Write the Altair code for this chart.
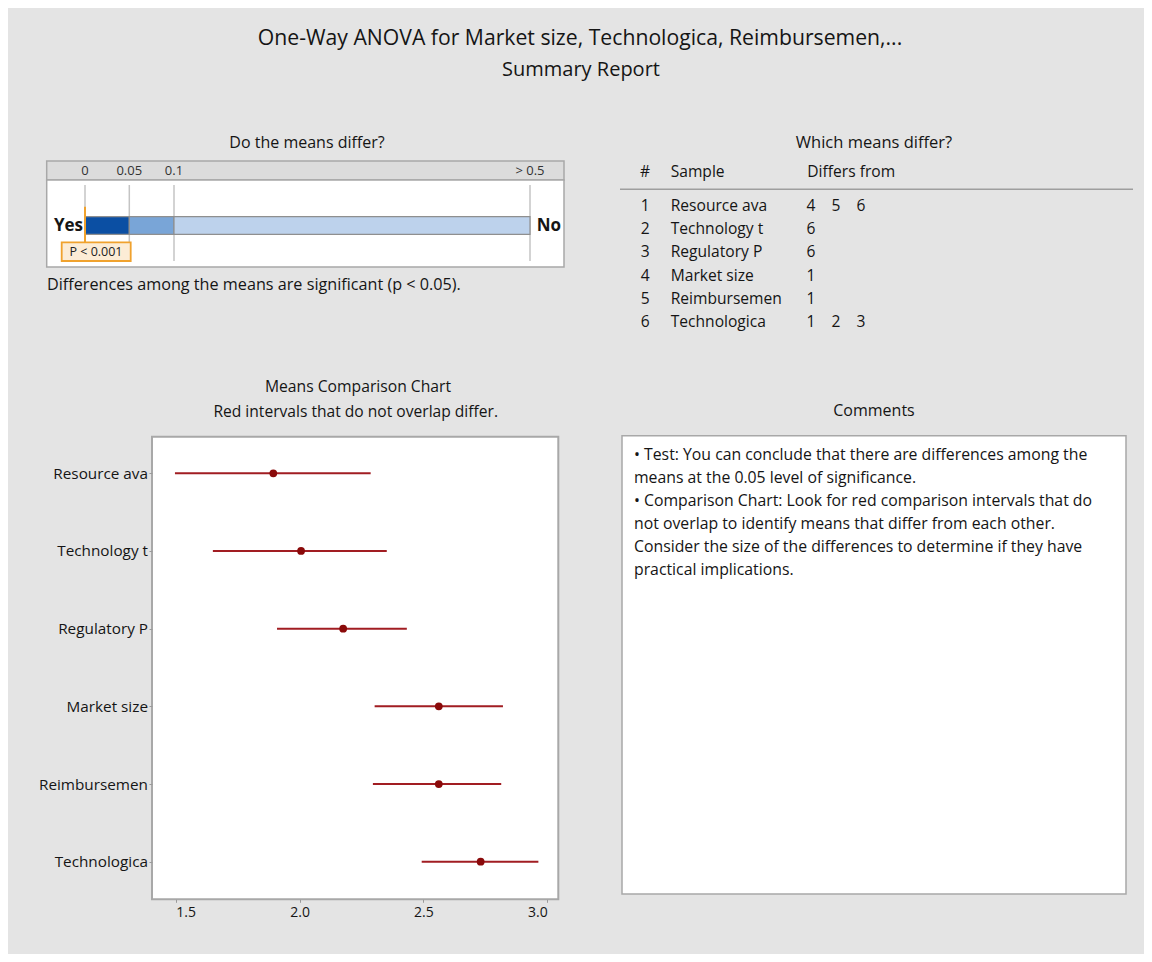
import altair as alt
import pandas as pd

# ---------------- data ----------------
samples = ["Resource ava", "Technology t", "Regulatory P", "Market size", "Reimbursemen", "Technologica"]
means = [1.894, 2.006, 2.176, 2.562, 2.562, 2.731]
lower = [1.497, 1.650, 1.909, 2.303, 2.296, 2.493]
upper = [2.287, 2.352, 2.433, 2.821, 2.814, 2.964]
differs_from = [[4, 5, 6], [6], [6], [1], [1], [1, 2, 3]]

p_edges = [0, 0.05, 0.1, 0.5]
p_edge_labels = ["0", "0.05", "0.1", "> 0.5"]
p_bands = ["strong", "moderate", "weak"]
p_value = 0.0
p_value_text = "P < 0.001"

x_ticks = [1.5, 2.0, 2.5, 3.0]

comments = [
    "\u2022  Test: You can conclude that there are differences among the",
    "means at the 0.05 level of significance.",
    "\u2022  Comparison Chart: Look for red comparison intervals that do",
    "not overlap to identify means that differ from each other.",
    "Consider the size of the differences to determine if they have",
    "practical implications.",
]

# ---------------- styles ----------------
FONT = "Open Sans"
TEXT = "#151515"
BG = "#e4e4e4"
FRAME = "#a8a8a8"
RED_LINE = "#a11d22"
RED_DOT = "#8a0a0a"
BAND_COLORS = ["#0b4fa3", "#79a5d7", "#bdd2ec"]
ORANGE = "#f0a22e"

W, H = 1136, 946

anchor = pd.DataFrame({"k": [0]})


def label(text, x, y, size=14, weight="normal", align="left", color=TEXT):
    return alt.Chart(anchor).mark_text(
        text=text, font=FONT, fontSize=size, fontWeight=weight,
        align=align, baseline="middle", color=color,
    ).encode(x=alt.value(x), y=alt.value(y))


def box(x, x2, y, y2, fill, stroke, sw=1.0):
    return alt.Chart(anchor).mark_rect(
        fill=fill, stroke=stroke, strokeWidth=sw
    ).encode(x=alt.value(x), x2=alt.value(x2), y=alt.value(y), y2=alt.value(y2))


# ---------------- tables ----------------
df_means = pd.DataFrame({"sample": samples, "mean": means, "lower": lower, "upper": upper})
df_rows = pd.DataFrame({"row": list(range(1, len(samples) + 1)), "sample": samples})
df_diff = pd.DataFrame(
    [{"row": i + 1, "k": k, "num": n} for i, lst in enumerate(differs_from) for k, n in enumerate(lst)]
)
df_pband = pd.DataFrame({"start": p_edges[:-1], "end": p_edges[1:], "band": p_bands})
df_pedge = pd.DataFrame({"edge": p_edges, "label": p_edge_labels})
df_pval = pd.DataFrame({"p": [p_value]})
df_comments = pd.DataFrame({"line": list(range(len(comments))), "text": comments})

# ---------------- p-value panel ----------------
pscale = alt.Scale(domain=p_edges, range=[77, 121.3, 166, 522], nice=False, zero=False, clamp=True)

p_grid = alt.Chart(df_pedge).mark_rule(color="#c4c4c4", strokeWidth=1.5).encode(
    x=alt.X("edge:Q", scale=pscale, axis=None), y=alt.value(177), y2=alt.value(253)
)
p_bars = alt.Chart(df_pband).mark_rect(stroke="#8f8f8f", strokeWidth=1.2).encode(
    x=alt.X("start:Q", scale=pscale, axis=None), x2="end:Q",
    y=alt.value(208.7), y2=alt.value(226.3),
    color=alt.Color("band:N", scale=alt.Scale(domain=p_bands, range=BAND_COLORS), legend=None),
)
p_ticklabels = alt.Chart(df_pedge).mark_text(
    font=FONT, fontSize=13, color="#333333", baseline="middle", align="center"
).encode(x=alt.X("edge:Q", scale=pscale, axis=None), y=alt.value(162.5), text="label:N")
p_marker = alt.Chart(df_pval).mark_rule(color=ORANGE, strokeWidth=2).encode(
    x=alt.X("p:Q", scale=pscale, axis=None), y=alt.value(198.7), y2=alt.value(234.3)
)
p_panel = alt.layer(p_grid, p_bars, p_ticklabels, p_marker)

# ---------------- means comparison chart ----------------
xscale = alt.Scale(domain=[1.5, 3.0], range=[167.7, 539.3], nice=False, zero=False)
yscale = alt.Scale(type="point", domain=samples, range=[465.3, 853.7], padding=0)
xaxis = alt.Axis(
    orient="bottom", offset=891.3 - H, values=x_ticks, format=".1f", domain=False, grid=False,
    tickSize=3, tickColor="#9a9a9a", labelFont=FONT, labelFontSize=14, labelColor=TEXT,
    labelPadding=3, title=None, zindex=1,
)
yaxis = alt.Axis(
    orient="left", offset=-144, domain=False, grid=False, tickSize=3, tickColor="#9a9a9a",
    labelFont=FONT, labelFontSize=15.3, labelColor=TEXT, labelPadding=1.5, title=None, zindex=1,
)
m_rule = alt.Chart(df_means).mark_rule(color=RED_LINE, strokeWidth=2).encode(
    y=alt.Y("sample:N", scale=yscale, axis=yaxis, sort=samples),
    x=alt.X("lower:Q", scale=xscale, axis=xaxis), x2="upper:Q",
)
m_point = alt.Chart(df_means).mark_point(
    filled=True, shape="circle", size=60, color=RED_DOT, opacity=1
).encode(
    y=alt.Y("sample:N", scale=yscale, sort=samples),
    x=alt.X("mean:Q", scale=xscale),
)
m_panel = alt.layer(m_rule, m_point)

# ---------------- which means differ table ----------------
tscale = alt.Scale(domain=[1, 6], range=[198, 314], nice=False, zero=False)
t_num = alt.Chart(df_rows).mark_text(font=FONT, fontSize=15.6, color=TEXT, align="left", baseline="middle").encode(
    x=alt.value(632.7), y=alt.Y("row:Q", scale=tscale, axis=None), text="row:Q"
)
t_name = alt.Chart(df_rows).mark_text(font=FONT, fontSize=15.6, color=TEXT, align="left", baseline="middle").encode(
    x=alt.value(662.7), y=alt.Y("row:Q", scale=tscale, axis=None), text="sample:N"
)
t_diff = alt.Chart(df_diff).mark_text(font=FONT, fontSize=15.6, color=TEXT, align="center", baseline="middle").encode(
    x=alt.X("k:Q", scale=alt.Scale(domain=[0, 2], range=[803, 853], nice=False, zero=False), axis=None),
    y=alt.Y("row:Q", scale=tscale, axis=None), text="num:Q",
)
t_sep = alt.Chart(anchor).mark_rule(color="#9e9e9e", strokeWidth=1.5).encode(
    x=alt.value(612), x2=alt.value(1125), y=alt.value(181.3)
)
t_panel = alt.layer(t_sep, t_num, t_name, t_diff)

# ---------------- comments ----------------
c_text = alt.Chart(df_comments).mark_text(font=FONT, fontSize=15.8, color=TEXT, align="left", baseline="middle").encode(
    x=alt.value(626),
    y=alt.Y("line:Q", scale=alt.Scale(domain=[0, 5], range=[447, 562], nice=False, zero=False), axis=None),
    text="text:N",
)

# ---------------- static texts & frames ----------------
decor = [
    # p-value panel frames
    box(38.7, 556, 153, 172, "#dcdcdc", FRAME, 1.5),
    box(38.7, 556, 172, 259, "#ffffff", FRAME, 1.5),
    # means chart frame
    box(144, 550.3, 428.7, 891.3, "#ffffff", FRAME, 2),
    # comments frame
    box(614, 1118, 427.7, 886, "#ffffff", FRAME, 1.5),
]

texts = [
    label("One-Way ANOVA for Market size, Technologica, Reimbursemen,...", 572, 31, size=21.2, align="center"),
    label("Summary Report", 573, 62, size=20, align="center"),
    label("Do the means differ?", 299, 135, size=16, align="center"),
    label("Which means differ?", 866, 135, size=16.5, align="center"),
    label("Differences among the means are significant (p < 0.05).", 39, 277, size=16.2),
    label("#", 632, 163.7, size=15.6),
    label("Sample", 662.7, 163.7, size=15.6),
    label("Differs from", 799.3, 163.7, size=15.6),
    label("Means Comparison Chart", 350, 378.7, size=15.7, align="center"),
    label("Red intervals that do not overlap differ.", 347.7, 403.7, size=15.6, align="center"),
    label("Comments", 866, 402.7, size=16, align="center"),
    label("Yes", 75, 218, size=17, weight="bold", align="right"),
    label("No", 528.7, 218, size=17, weight="bold"),
]

p_label_box = box(53.7, 122.7, 234.3, 253, "#fcecd6", ORANGE, 1.8)
p_label_text = label(p_value_text, 88, 243.5, size=12.5, align="center", color="#222222")

chart = alt.layer(
    *decor, p_panel, p_label_box, p_label_text, m_panel, t_panel, c_text, *texts
).resolve_scale(
    x="independent", y="independent", color="independent"
).properties(
    width=W, height=H, padding=0, autosize=alt.AutoSizeParams(type="none"),
    background=BG,
).configure_view(stroke=None)

chart.save("out.html", embed_options={"renderer": "svg", "actions": False})
